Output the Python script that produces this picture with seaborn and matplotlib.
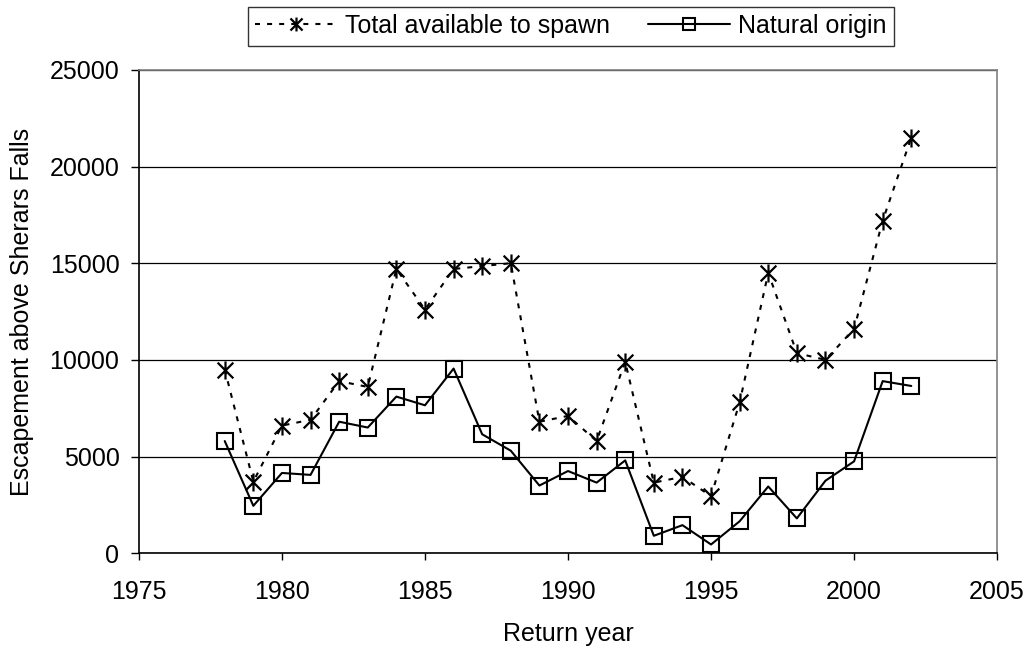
import numpy as np
import pandas as pd
import matplotlib
matplotlib.use("Agg")
import matplotlib.pyplot as plt
from matplotlib.path import Path
import seaborn as sns

years = list(range(1978, 2003))
total_spawn = [9500, 3700, 6600, 6900, 8900, 8600, 14700, 12600, 14700, 14850,
               15000, 6800, 7100, 5800, 9900, 3650, 3950, 2950, 7800, 14500,
               10350, 10000, 11600, 17200, 21500]
natural_origin = [5800, 2450, 4150, 4050, 6800, 6500, 8100, 7650, 9550, 6150,
                  5300, 3500, 4250, 3650, 4800, 900, 1450, 450, 1650, 3450,
                  1800, 3750, 4750, 8900, 8650]

df = pd.DataFrame({"year": years, "total": total_spawn, "natural": natural_origin})

sns.set_style("white")
plt.rcParams["font.family"] = ["Liberation Sans", "DejaVu Sans"]
plt.rcParams["font.size"] = 18
plt.rcParams["text.color"] = "black"
plt.rcParams["axes.labelcolor"] = "black"
plt.rcParams["xtick.color"] = "black"
plt.rcParams["ytick.color"] = "black"

# Excel style star marker: X with a vertical bar
star = Path([(-1, -1), (1, 1), (-1, 1), (1, -1), (0, -1.15), (0, 1.15)],
            [Path.MOVETO, Path.LINETO, Path.MOVETO, Path.LINETO, Path.MOVETO, Path.LINETO])

fig = plt.figure(figsize=(10.29, 6.47), dpi=100)
ax = fig.add_axes([0.135, 0.145, 0.834, 0.747])

sns.lineplot(data=df, x="year", y="total", ax=ax, color="black", linewidth=1.5,
             linestyle=(0, (2.4, 3.4)), marker=star, markersize=13,
             markeredgewidth=1.6, markerfacecolor="none", markeredgecolor="black",
             label="Total available to spawn")
sns.lineplot(data=df, x="year", y="natural", ax=ax, color="black", linewidth=1.5,
             marker="s", markersize=11, markeredgewidth=1.5,
             markerfacecolor="none", markeredgecolor="black",
             label="Natural origin")

ax.set_xlim(1975, 2005)
ax.set_ylim(0, 25000)
ax.set_xticks(range(1975, 2006, 5))
ax.set_yticks(range(0, 25001, 5000))
ax.yaxis.grid(True, color="black", linewidth=0.9)
ax.set_axisbelow(True)
for s in ["top", "right"]:
    ax.spines[s].set_color("#808080")
for s in ["left", "bottom"]:
    ax.spines[s].set_color("black")
for s in ax.spines.values():
    s.set_linewidth(1.2)
ax.tick_params(axis="both", direction="out", width=1, color="black",
               labelcolor="black", labelsize=18, bottom=True, left=True)
ax.tick_params(axis="x", length=5, pad=14)
ax.tick_params(axis="y", length=6, pad=8)
ax.set_xlabel("Return year", fontsize=18, labelpad=13)
ax.set_ylabel("Escapement above Sherars Falls", fontsize=18, labelpad=11)

leg = ax.legend(loc="lower center", bbox_to_anchor=(0.503, 1.05), ncol=2,
                frameon=True, fancybox=False, edgecolor="black", fontsize=18,
                handlelength=3.3, columnspacing=1.5, handletextpad=0.3,
                borderpad=0.3, borderaxespad=0)
leg.get_frame().set_linewidth(1.0)
for t in leg.get_texts():
    t.set_color("black")
leg.legend_handles[0].set_markersize(10)
leg.legend_handles[1].set_markersize(8)

fig.savefig("out.png", dpi=100, facecolor="white")
